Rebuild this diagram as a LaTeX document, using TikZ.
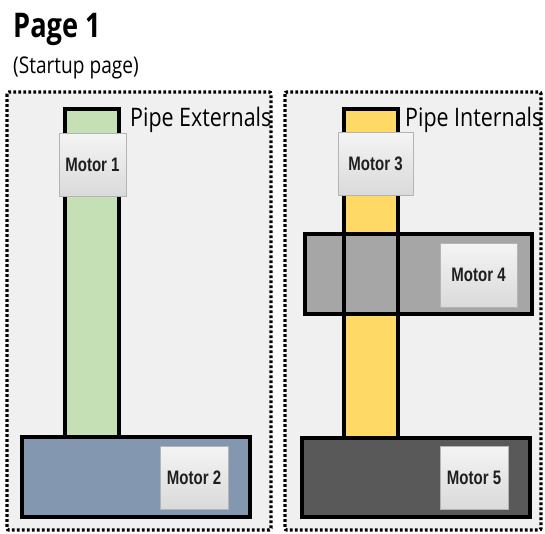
\documentclass[tikz,border=0pt]{standalone}
\usepackage{fontspec}
\setmainfont{Liberation Sans}
\newfontfamily\regfont{Open Sans}
\newfontfamily\titlefont{Open Sans}
\definecolor{panelbg}{HTML}{F0F0F0}
\definecolor{pgreen}{HTML}{C5E0B4}
\definecolor{pyellow}{HTML}{FFD966}
\definecolor{pblue}{HTML}{8497B0}
\definecolor{pgray}{HTML}{A6A6A6}
\definecolor{pdark}{HTML}{595959}
\definecolor{btntop}{HTML}{F4F4F4}
\definecolor{btnbot}{HTML}{DADADA}
\definecolor{btnedge}{HTML}{B4B4B4}
\tikzset{
  panel/.style={fill=panelbg, draw=black, line width=3.4pt, dash pattern=on 2.8pt off 2.2pt, rounded corners=2pt},
  pipe/.style={line width=3.4pt, draw=black},
  base/.style={line width=3.6pt, draw=black},
  motor/.style={draw=btnedge, line width=0.8pt, top color=btntop, bottom color=btnbot, inner sep=0pt,
    font=\bfseries\fontsize{19.5}{19.5}\selectfont, text=black!88},
  heading/.style={font=\regfont\fontsize{25.5}{25.5}\selectfont, inner sep=0pt, anchor=base west}
}
\begin{document}
\begin{tikzpicture}[x=1pt,y=-1pt]
\useasboundingbox[fill=white] (0,0) rectangle (545,533);
% title
\node[anchor=base west, inner sep=0pt, font=\titlefont\bfseries\fontsize{34}{34}\selectfont] (title) at (13,37) {\scalebox{0.8}[1]{Page 1}};
\node[anchor=base west, inner sep=0pt, font=\regfont\fontsize{23}{23}\selectfont] (sub) at (13,73) {\scalebox{0.83}[1]{(Startup page)}};
% panels
\draw[panel] (7,92) rectangle (271,530);
\draw[panel] (285,92) rectangle (541,530);
% left panel
\fill[pgreen] (65,109) rectangle (119,438);
\draw[pipe] (65,438) -- (65,109) -- (119,109) -- (119,438);
\node[heading] (ext) at (130,126) {\scalebox{0.84}[1]{Pipe Externals}};
\draw[base, fill=pblue] (22,437) rectangle (250,517);
\node[motor, minimum width=67pt, minimum height=63pt] (m1) at (92.5,164.5) {\scalebox{0.77}[1]{Motor 1}};
\node[motor, minimum width=68pt, minimum height=63pt] (m2) at (194,477.5) {\scalebox{0.77}[1]{Motor 2}};
% right panel
\fill[pyellow] (344,109) rectangle (398,438);
\draw[pipe] (344,438) -- (344,109) -- (398,109) -- (398,438);
\node[heading] (int) at (405,126) {\scalebox{0.84}[1]{Pipe Internals}};
\draw[base, fill=pgray] (305,234) rectangle (532,314);
\draw[pipe] (344,234) -- (344,314) (398,234) -- (398,314);
\draw[base, fill=pdark] (302,438) rectangle (530,517);
\node[motor, minimum width=75pt, minimum height=63pt] (m3) at (375.5,163.5) {\scalebox{0.77}[1]{Motor 3}};
\node[motor, minimum width=77pt, minimum height=64pt] (m4) at (478.5,275) {\scalebox{0.77}[1]{Motor 4}};
\node[motor, minimum width=68pt, minimum height=63pt] (m5) at (474,477.5) {\scalebox{0.77}[1]{Motor 5}};
\end{tikzpicture}
\end{document}
